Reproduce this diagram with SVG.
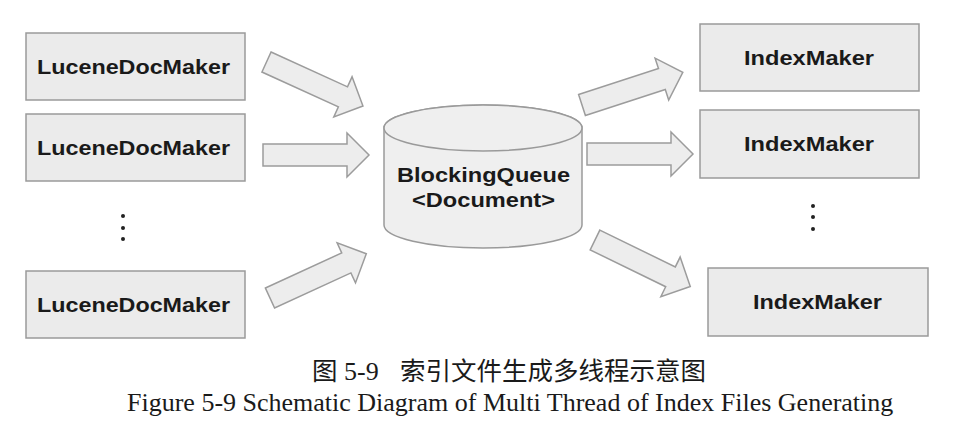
<svg xmlns="http://www.w3.org/2000/svg" xmlns:xlink="http://www.w3.org/1999/xlink" width="954" height="438" viewBox="0 0 954 438">
  <style>
    .box { fill: #ebebeb; stroke: #9a9a9a; stroke-width: 1.5; }
    .cyl { fill: #efefef; stroke: #9a9a9a; stroke-width: 1.5; }
    .lbl { font-family: "Liberation Sans", Arial, sans-serif; font-weight: bold; font-size: 20.5px; fill: #1a1a1a; }
    .arr { fill: #ededed; stroke: #9c9c9c; stroke-width: 1.5; stroke-linejoin: miter; }
    .dot { fill: #222; }
    .cap-cn { font-family: "Noto Sans CJK SC", sans-serif; font-size: 25.5px; fill: #1a1a1a; }
    .cap-num { font-family: "Liberation Serif", "Times New Roman", serif; font-size: 26px; }
    .cap-en { font-family: "Liberation Serif", "Times New Roman", serif; font-size: 26px; fill: #1a1a1a; }
  </style>
  <defs>
    <path id="arr" d="M0,-11 H84 V-22 L106,0 L84,22 V11 H0 Z"/>
  </defs>
  <rect width="954" height="438" fill="#ffffff"/>

  <g id="connectors">
    <use xlink:href="#arr" class="arr" transform="translate(266.5,62) rotate(24.5)"/>
    <use xlink:href="#arr" class="arr" transform="translate(263,155)"/>
    <use xlink:href="#arr" class="arr" transform="translate(270,298) rotate(-24.7)"/>
    <use xlink:href="#arr" class="arr" transform="translate(582,105) rotate(-18)"/>
    <use xlink:href="#arr" class="arr" transform="translate(587,154)"/>
    <use xlink:href="#arr" class="arr" transform="translate(595,240) rotate(26)"/>
  </g>

  <g id="producer1">
    <rect class="box" x="26" y="33" width="219" height="67"/>
    <text class="lbl" x="37" y="74" textLength="193" lengthAdjust="spacingAndGlyphs">LuceneDocMaker</text>
  </g>
  <g id="producer2">
    <rect class="box" x="26" y="114" width="219" height="67"/>
    <text class="lbl" x="37" y="155" textLength="193" lengthAdjust="spacingAndGlyphs">LuceneDocMaker</text>
  </g>
  <g id="producer-dots">
    <circle class="dot" cx="123" cy="216" r="2"/>
    <circle class="dot" cx="123" cy="228" r="2"/>
    <circle class="dot" cx="123" cy="239" r="2"/>
  </g>
  <g id="producer3">
    <rect class="box" x="26" y="271" width="219" height="67"/>
    <text class="lbl" x="37" y="312" textLength="193" lengthAdjust="spacingAndGlyphs">LuceneDocMaker</text>
  </g>

  <g id="queue">
    <path class="cyl" d="M384,128 V225 A99,23 0 0 0 582,225 V128 A99,23 0 0 0 384,128 Z"/>
    <ellipse class="cyl" cx="483" cy="128" rx="99" ry="23"/>
    <text class="lbl" x="397" y="182" textLength="173" lengthAdjust="spacingAndGlyphs">BlockingQueue</text>
    <text class="lbl" x="412" y="207" textLength="143" lengthAdjust="spacingAndGlyphs">&lt;Document&gt;</text>
  </g>

  <g id="consumer1">
    <rect class="box" x="700" y="24" width="219" height="67"/>
    <text class="lbl" x="744" y="64.5" textLength="130" lengthAdjust="spacingAndGlyphs">IndexMaker</text>
  </g>
  <g id="consumer2">
    <rect class="box" x="700" y="110" width="219" height="68"/>
    <text class="lbl" x="744" y="151" textLength="130" lengthAdjust="spacingAndGlyphs">IndexMaker</text>
  </g>
  <g id="consumer-dots">
    <circle class="dot" cx="813" cy="206" r="2"/>
    <circle class="dot" cx="813" cy="217" r="2"/>
    <circle class="dot" cx="813" cy="229" r="2"/>
  </g>
  <g id="consumer3">
    <rect class="box" x="708" y="268" width="220" height="68"/>
    <text class="lbl" x="753" y="309" textLength="129" lengthAdjust="spacingAndGlyphs">IndexMaker</text>
  </g>

  <g id="caption">
    <text class="cap-cn" y="380"><tspan x="312">图</tspan><tspan class="cap-num" x="344">5-9</tspan><tspan x="400">索引文件生成多线程示意图</tspan></text>
    <text class="cap-en" x="127" y="411">Figure 5-9 Schematic Diagram of Multi Thread of Index Files Generating</text>
  </g>
</svg>
